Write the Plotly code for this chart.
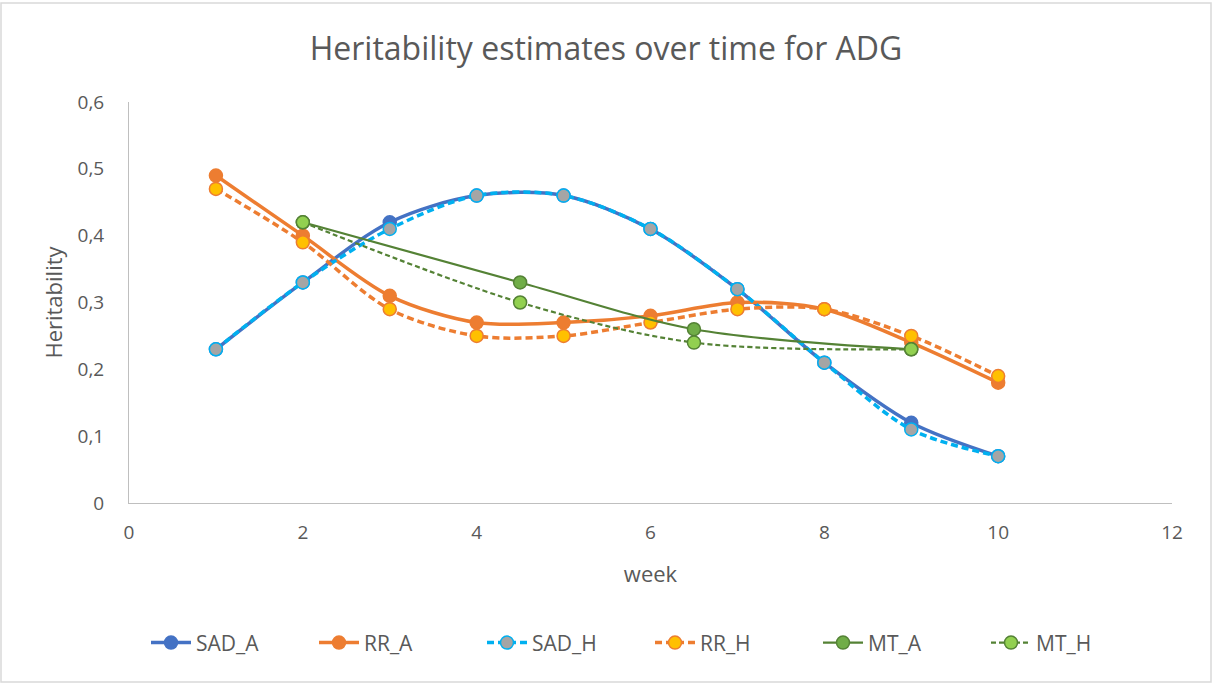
import plotly.graph_objects as go

# Heritability estimates per week
weeks = [1, 2, 3, 4, 5, 6, 7, 8, 9, 10]
sad_a = [0.23, 0.33, 0.42, 0.46, 0.46, 0.41, 0.32, 0.21, 0.12, 0.07]
sad_h = [0.23, 0.33, 0.41, 0.46, 0.46, 0.41, 0.32, 0.21, 0.11, 0.07]
rr_a = [0.49, 0.40, 0.31, 0.27, 0.27, 0.28, 0.30, 0.29, 0.24, 0.18]
rr_h = [0.47, 0.39, 0.29, 0.25, 0.25, 0.27, 0.29, 0.29, 0.25, 0.19]
mt_weeks = [2, 4.5, 6.5, 9]
mt_a = [0.42, 0.33, 0.26, 0.23]
mt_h = [0.42, 0.30, 0.24, 0.23]

x_ticks = [0, 2, 4, 6, 8, 10, 12]
y_ticks = [0, 0.1, 0.2, 0.3, 0.4, 0.5, 0.6]

FONT = "Open Sans"
GREY = "#595959"

series = [
    dict(name="SAD_A", x=weeks, y=sad_a, lc="#4472C4", lw=3.5, dash="solid",
         fill="#4472C4", border="#4472C4", size=13),
    dict(name="RR_A", x=weeks, y=rr_a, lc="#ED7D31", lw=3.5, dash="solid",
         fill="#ED7D31", border="#ED7D31", size=13),
    dict(name="SAD_H", x=weeks, y=sad_h, lc="#00B0F0", lw=3.5, dash="7px,4px",
         fill="#A5A5A5", border="#00B0F0", size=13),
    dict(name="RR_H", x=weeks, y=rr_h, lc="#ED7D31", lw=3.5, dash="7px,4px",
         fill="#FFC000", border="#ED7D31", size=13),
    dict(name="MT_A", x=mt_weeks, y=mt_a, lc="#548235", lw=2.2, dash="solid",
         fill="#70AD47", border="#548235", size=13),
    dict(name="MT_H", x=mt_weeks, y=mt_h, lc="#548235", lw=2.2, dash="5px,3px",
         fill="#92D050", border="#548235", size=13),
]

fig = go.Figure()
for s in series:
    fig.add_trace(go.Scatter(
        x=s["x"], y=s["y"], name=s["name"], mode="lines+markers",
        line=dict(color=s["lc"], width=s["lw"], dash=s["dash"],
                  shape="spline", smoothing=0.9),
        marker=dict(size=s["size"], color=s["fill"],
                    line=dict(color=s["border"], width=1.5)),
    ))

axis_common = dict(
    showgrid=False, zeroline=False, showline=True, linecolor="#BFBFBF",
    linewidth=1, ticks="", tickfont=dict(family=FONT, size=19, color=GREY),
)

fig.update_layout(
    width=1212, height=684,
    paper_bgcolor="white", plot_bgcolor="white",
    separators=", ",
    margin=dict(l=129, r=40, t=102, b=181, autoexpand=False),
    title=dict(text="Heritability estimates over time for ADG",
               x=0.5, xanchor="center", y=0.928, yanchor="middle",
               font=dict(family=FONT, size=32, color=GREY)),
    xaxis=dict(range=[0, 12], tickvals=x_ticks,
               title=dict(text="week", font=dict(family=FONT, size=22, color=GREY),
                          standoff=22),
               ticklabelstandoff=12,
               **axis_common),
    yaxis=dict(range=[0, 0.6], tickvals=y_ticks, tickformat=".1~f",
               title=dict(text="Heritability",
                          font=dict(family=FONT, size=22, color=GREY),
                          standoff=8),
               ticklabelstandoff=20,
               **axis_common),
    legend=dict(orientation="h", x=(650 - 129) / 1043, xanchor="center",
                y=-0.349, yanchor="middle",
                font=dict(family=FONT, size=21, color=GREY),
                itemwidth=40, entrywidth=113, traceorder="normal"),
    showlegend=True,
)

# light frame around the whole chart
fig.add_shape(type="rect", xref="paper", yref="paper",
              x0=-128 / 1043, x1=(1211 - 129) / 1043,
              y0=-(682 - 503) / 401, y1=(503 - 3) / 401,
              line=dict(color="#D9D9D9", width=1.5), layer="below")

fig.write_html("out.html")
